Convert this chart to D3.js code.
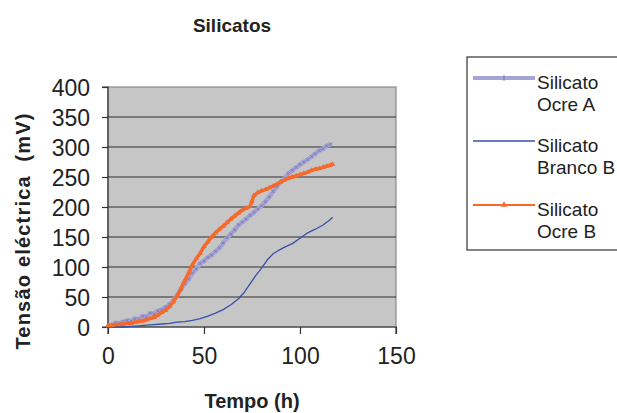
<!DOCTYPE html>
<html>
<head>
<meta charset="utf-8">
<script src="https://cdn.jsdelivr.net/npm/d3@7"></script>
<style>
  html, body { margin: 0; padding: 0; background: #fff; }
  svg { display: block; font-family: "Liberation Sans", Arial, sans-serif; }
</style>
</head>
<body>
<svg id="chart" width="617" height="413"></svg>
<script>
// Elapsed time (h) and measured voltage (mV) for each silicate sample
const ocreATime = [0,2,4,6,8,10,12,14,16,18,20,22,24,26,28,30,32,34,36,38,40,42,44,46,48,50,52,54,56,58,60,62,64,66,68,70,72,74,76,78,80,82,84,86,88,90,92,94,96,98,100,102,104,106,108,110,112,114,116];
const ocreAValues = [1,3,7,6,9,11,10,14,13,18,17,23,22,27,29,33,38,44,53,63,72,80,90,97,106,110,116,120,126,132,140,149,155,162,170,175,180,186,191,197,202,209,217,226,234,242,248,256,261,266,271,275,279,284,289,294,297,302,305];

const brancoBTime = [0,8,12,16,20,24,28,32,36,40,44,48,52,56,60,64,68,71,74,77,80,83,86,89,92,96,100,104,108,112,115,117];
const brancoBValues = [0,0,1,2,3,4,5,6,8,9,11,14,18,23,29,37,47,58,72,86,98,112,122,128,133,139,148,157,163,170,177,183];

const ocreBTime = [0,2,4,6,8,10,12,14,16,18,20,22,24,26,28,30,32,34,36,38,40,42,44,46,48,50,52,54,56,58,60,62,64,66,68,70,72,74,75,76,78,80,82,84,86,88,90,92,94,96,98,100,102,104,106,108,110,112,114,116,117];
const ocreBValues = [3,3,4,4,5,6,6,8,9,10,12,14,16,20,24,28,34,42,52,64,78,90,104,114,123,134,142,150,157,163,168,174,180,185,190,195,198,201,210,219,224,227,229,232,235,238,242,245,248,250,252,254,256,258,261,263,264,266,268,270,271];

const xTicks = [0, 50, 100, 150];
const yTicks = [0, 50, 100, 150, 200, 250, 300, 350, 400];
const seriesNames = [["Silicato", "Ocre A"], ["Silicato", "Branco B"], ["Silicato", "Ocre B"]];

const colA = "#a4a4d4", colAMark = "#7c7cb8", colB = "#3552a8", colC = "#f7692a";

const svg = d3.select("#chart");
const plot = { left: 108, right: 396, top: 87, bottom: 327 };

const x = d3.scaleLinear().domain([0, 150]).range([plot.left, plot.right]);
const y = d3.scaleLinear().domain([0, 400]).range([plot.bottom, plot.top]);

// plot area
svg.append("rect")
  .attr("x", plot.left).attr("y", plot.top)
  .attr("width", plot.right - plot.left).attr("height", plot.bottom - plot.top)
  .attr("fill", "#c6c6c6").attr("stroke", "#8a8a8a").attr("stroke-width", 1.2);

// horizontal gridlines
svg.append("g").selectAll("line").data(yTicks.filter(d => d > 0 && d < 400)).join("line")
  .attr("x1", plot.left).attr("x2", plot.right)
  .attr("y1", d => y(d)).attr("y2", d => y(d))
  .attr("stroke", "#2e2e2e").attr("stroke-width", 1.2);

// axes
const yAxis = d3.axisLeft(y).tickValues(yTicks).tickSize(6).tickPadding(12);
const xAxis = d3.axisBottom(x).tickValues(xTicks).tickSize(7).tickPadding(14);

const gy = svg.append("g").attr("transform", `translate(${plot.left},0)`).call(yAxis);
const gx = svg.append("g").attr("transform", `translate(0,${plot.bottom})`).call(xAxis);
[gx, gy].forEach(g => {
  g.select(".domain").attr("stroke", "#333").attr("stroke-width", 1.2);
  g.selectAll(".tick line").attr("stroke", "#333").attr("stroke-width", 1.2);
  g.selectAll("text").attr("fill", "#222").attr("font-size", 23)
    .attr("font-family", "Liberation Sans, Arial, sans-serif");
});
gy.select(".domain").attr("d", `M-6,${plot.top}H0V${plot.bottom}H-6`);
gx.select(".domain").attr("d", `M${plot.left},7V0H${plot.right}V7`);
gy.selectAll("text").attr("dy", "0.36em");

// series lines
const line = d3.line().x(d => x(d[0])).y(d => y(d[1]));
const seriesA = ocreATime.map((t, i) => [t, ocreAValues[i]]);
const seriesB = brancoBTime.map((t, i) => [t, brancoBValues[i]]);
const seriesC = ocreBTime.map((t, i) => [t, ocreBValues[i]]);

const clip = svg.append("defs").append("clipPath").attr("id", "clip");
clip.append("rect").attr("x", plot.left - 4).attr("y", plot.top).attr("width", plot.right - plot.left + 8).attr("height", plot.bottom - plot.top + 4);
const gs = svg.append("g").attr("clip-path", "url(#clip)");

gs.append("path").datum(seriesA).attr("d", line)
  .attr("fill", "none").attr("stroke", colA).attr("stroke-width", 4.5).attr("stroke-linejoin", "round");
gs.append("g").selectAll("path").data(seriesA).join("path")
  .attr("d", d => `M${x(d[0]) - 1.5},${y(d[1]) - 1.5}l3,3M${x(d[0]) - 1.5},${y(d[1]) + 1.5}l3,-3`)
  .attr("stroke", colAMark).attr("stroke-width", 1);

gs.append("path").datum(seriesB).attr("d", line)
  .attr("fill", "none").attr("stroke", colB).attr("stroke-width", 1.3).attr("stroke-linejoin", "round");

gs.append("path").datum(seriesC).attr("d", line)
  .attr("fill", "none").attr("stroke", colC).attr("stroke-width", 3.5).attr("stroke-linejoin", "round");
gs.append("g").selectAll("path").data(seriesC).join("path")
  .attr("d", d3.symbol(d3.symbolTriangle, 12))
  .attr("transform", d => `translate(${x(d[0])},${y(d[1])})`)
  .attr("fill", colC);

// titles
svg.append("text").attr("x", 232).attr("y", 32).attr("text-anchor", "middle")
  .attr("font-size", 19).attr("font-weight", "bold").attr("fill", "#222").text("Silicatos");
svg.append("text").attr("x", 252).attr("y", 408).attr("text-anchor", "middle")
  .attr("font-size", 20).attr("font-weight", "bold").attr("fill", "#222").text("Tempo (h)");
svg.append("text").attr("transform", "translate(30,231) rotate(-90)").attr("text-anchor", "middle")
  .attr("font-size", 20).attr("font-weight", "bold").attr("letter-spacing", 1.2).attr("fill", "#222")
  .attr("xml:space", "preserve").text("Tensão eléctrica  (mV)");

// legend
const lg = svg.append("g");
lg.append("rect").attr("x", 467).attr("y", 57).attr("width", 160).attr("height", 193)
  .attr("fill", "#fff").attr("stroke", "#333").attr("stroke-width", 1.2);
const legendY = [78, 141, 205];
const legendStyle = [
  { c: colA, w: 4 }, { c: colB, w: 1.4 }, { c: colC, w: 2 }
];
seriesNames.forEach((nm, i) => {
  const ly = legendY[i];
  lg.append("line").attr("x1", 473).attr("x2", 535).attr("y1", ly).attr("y2", ly)
    .attr("stroke", legendStyle[i].c).attr("stroke-width", legendStyle[i].w);
  const t = lg.append("text").attr("x", 537).attr("y", ly + 11).attr("font-size", 19).attr("fill", "#222");
  t.append("tspan").attr("x", 537).text(nm[0]);
  t.append("tspan").attr("x", 537).attr("dy", 22).text(nm[1]);
});
lg.append("path").attr("d", "M504,75V81").attr("stroke", colAMark).attr("stroke-width", 1);
lg.append("path").attr("d", d3.symbol(d3.symbolTriangle, 18)).attr("transform", "translate(504,205)").attr("fill", colC);
</script>
</body>
</html>
